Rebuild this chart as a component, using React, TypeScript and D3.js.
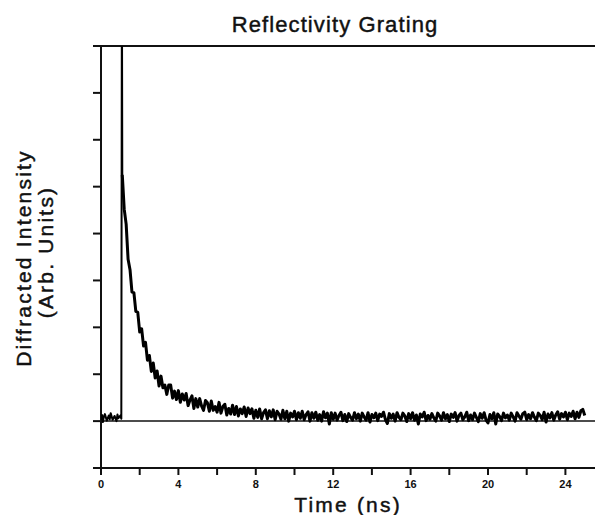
import React from "react";
import * as d3 from "d3";

// ---- data ----
const xTicks = [0, 2, 4, 6, 8, 10, 12, 14, 16, 18, 20, 22, 24];
const xTickLabels = ["0", "4", "8", "12", "16", "20", "24"];
const yTicks = [-1, 0, 1, 2, 3, 4, 5, 6, 7, 8];

// pre-excitation baseline (ns, arb. units)
const preTimes = [0, 0.05, 0.1, 0.15, 0.2, 0.3, 0.4, 0.45, 0.5, 0.6, 0.7, 0.8, 0.85, 0.9, 1.0, 1.05];
const preValues = [0.02, 0.13, -0.02, 0.1, 0.15, 0.01, 0.12, 0.04, 0.17, 0.03, 0.11, 0.0, 0.14, 0.06, 0.12, 0.05];

// rising edge (goes off-scale)
const riseTime = 1.08;
const riseValue = 9.5;

// decay, sampled every 0.1 ns starting at 1.1 ns
const decayStart = 1.1;
const decayStep = 0.1;
const decayValues = [
  5.25, 4.52, 4.2, 3.45, 3.23, 2.75, 2.74, 2.34, 2.32, 1.9,
  1.97, 1.6, 1.68, 1.3, 1.4, 1.06, 1.24, 0.92, 1.07, 0.75,
  0.96, 0.71, 0.77, 0.57, 0.77, 0.77, 0.49, 0.64, 0.46, 0.65,
  0.4, 0.58, 0.45, 0.59, 0.33, 0.45, 0.54, 0.27, 0.48, 0.3,
  0.48, 0.32, 0.23, 0.44, 0.39, 0.21, 0.43, 0.23, 0.31, 0.19,
  0.4, 0.17, 0.31, 0.36, 0.13, 0.27, 0.15, 0.34, 0.14, 0.31,
  0.11, 0.26, 0.16, 0.3, 0.1, 0.28, 0.16, 0.26, 0.06, 0.23,
  0.08, 0.26, 0.05, 0.18, 0.24, 0.05, 0.22, 0.09, 0.24, 0.03,
  0.21, 0.15, 0.04, 0.23, 0.05, 0.21, 0.0, 0.17, 0.09, 0.21,
  0.03, 0.18, 0.06, 0.21, 0.03, 0.14, 0.2, 0.0, 0.18, 0.06,
  0.19, 0.02, 0.14, 0.0, 0.2, 0.07, 0.17, -0.06, 0.18, 0.04,
  0.17, 0.02, 0.12, 0.19, 0.01, 0.14, -0.01, 0.16, 0.08, 0.02,
  0.18, 0.05, 0.15, 0.0, 0.17, 0.09, 0.02, 0.18, -0.02, 0.14,
  0.07, 0.17, 0.01, 0.15, 0.1, 0.19, 0.03, -0.05, 0.16, 0.06,
  0.15, 0.0, 0.18, 0.08, 0.03, 0.17, 0.11, -0.01, 0.16, 0.05,
  0.18, 0.02, 0.13, -0.06, 0.15, 0.09, 0.19, 0.01, 0.12, 0.04,
  0.16, 0.07, 0.0, 0.17, 0.11, 0.02, 0.18, 0.05, 0.14, -0.01,
  0.15, 0.08, 0.18, 0.0, 0.12, 0.17, 0.03, 0.09, 0.19, 0.01,
  0.13, 0.03, 0.17, 0.08, -0.01, 0.16, 0.06, 0.18, 0.02, -0.04,
  0.14, 0.05, 0.18, -0.06, 0.15, 0.1, 0.01, 0.17, 0.07, 0.13,
  0.02, 0.17, 0.09, 0.0, 0.18, 0.11, 0.04, 0.16, 0.19, 0.03,
  0.14, 0.05, 0.18, 0.08, 0.01, 0.17, 0.12, 0.03, 0.19, -0.02,
  0.15, 0.07, 0.18, 0.02, 0.13, 0.2, 0.04, 0.16, 0.09, 0.19,
  0.03, 0.17, 0.1, 0.21, 0.05, 0.19, 0.08, 0.22, 0.25, 0.12,
];

const W = 595;
const H = 515;
const FONT = "'Liberation Sans', Arial, Helvetica, sans-serif";

export default function App() {
  const x = d3.scaleLinear().domain([0, 26]).range([101, 604.1]);
  const y = d3.scaleLinear().domain([-1, 8]).range([468, 46]);

  const prePts: [number, number][] = [];
  preTimes.forEach((t, i) => prePts.push([t, preValues[i]]));
  prePts.push([riseTime, riseValue]);
  prePts.push([decayStart, decayValues[0]]);

  const decayPts: [number, number][] = decayValues.map((v, i) => [decayStart + i * decayStep, v]);

  const line = d3
    .line<[number, number]>()
    .x((d) => x(d[0]))
    .y((d) => y(d[1]));

  const xl = x(0);
  const yTop = y(8);
  const yBot = y(-1);
  const y0 = y(0);

  const textStroke = { stroke: "#111", strokeWidth: 0.45 };

  return (
    <svg
      width={W}
      height={H}
      viewBox={`0 0 ${W} ${H}`}
      style={{ position: "absolute", left: 0, top: 0, background: "#fff" }}
    >
      <defs>
        <clipPath id="plotClip">
          <rect x={xl} y={yTop} width={W - xl} height={yBot - yTop} />
        </clipPath>
      </defs>

      {/* title */}
      <text
        x={335}
        y={32}
        textAnchor="middle"
        fontFamily={FONT}
        fontSize={22}
        letterSpacing={1.1}
        fill="#111"
        {...textStroke}
      >
        Reflectivity Grating
      </text>

      {/* frame lines */}
      <line x1={93} x2={W} y1={yTop} y2={yTop} stroke="#111" strokeWidth={2} />
      <line x1={93} x2={W} y1={yBot} y2={yBot} stroke="#111" strokeWidth={2} />
      <line x1={xl} x2={xl} y1={yTop} y2={yBot + 7} stroke="#111" strokeWidth={2} />
      {/* zero baseline */}
      <line x1={xl} x2={W} y1={y0} y2={y0} stroke="#111" strokeWidth={1.5} />

      {/* y ticks */}
      {yTicks.map((v) => (
        <line key={"yt" + v} x1={xl - 8} x2={xl} y1={y(v)} y2={y(v)} stroke="#111" strokeWidth={2} />
      ))}

      {/* x ticks */}
      {xTicks.map((v) => (
        <line key={"xt" + v} x1={x(v)} x2={x(v)} y1={yBot} y2={yBot + 7} stroke="#111" strokeWidth={2} />
      ))}
      {xTickLabels.map((s) => (
        <text
          key={"xl" + s}
          x={x(+s)}
          y={488}
          textAnchor="middle"
          fontFamily={FONT}
          fontWeight="bold"
          fontSize={11}
          fill="#111"
        >
          {s}
        </text>
      ))}

      {/* axis titles */}
      <text
        x={348}
        y={512}
        textAnchor="middle"
        fontFamily={FONT}
        fontSize={21}
        letterSpacing={2.2}
        fill="#111"
        {...textStroke}
      >
        Time (ns)
      </text>
      <text
        transform={`translate(31,258) rotate(-90)`}
        textAnchor="middle"
        fontFamily={FONT}
        fontSize={21}
        letterSpacing={2.2}
        fill="#111"
        {...textStroke}
      >
        Diffracted Intensity
      </text>
      <text
        transform={`translate(53,252) rotate(-90)`}
        textAnchor="middle"
        fontFamily={FONT}
        fontSize={21}
        letterSpacing={2.2}
        fill="#111"
        {...textStroke}
      >
        (Arb. Units)
      </text>

      {/* signal trace */}
      <g clipPath="url(#plotClip)">
        <path d={line(prePts) || ""} fill="none" stroke="#000" strokeWidth={2} strokeLinejoin="round" />
        <path d={line(decayPts) || ""} fill="none" stroke="#000" strokeWidth={3} strokeLinejoin="round" />
      </g>
    </svg>
  );
}
